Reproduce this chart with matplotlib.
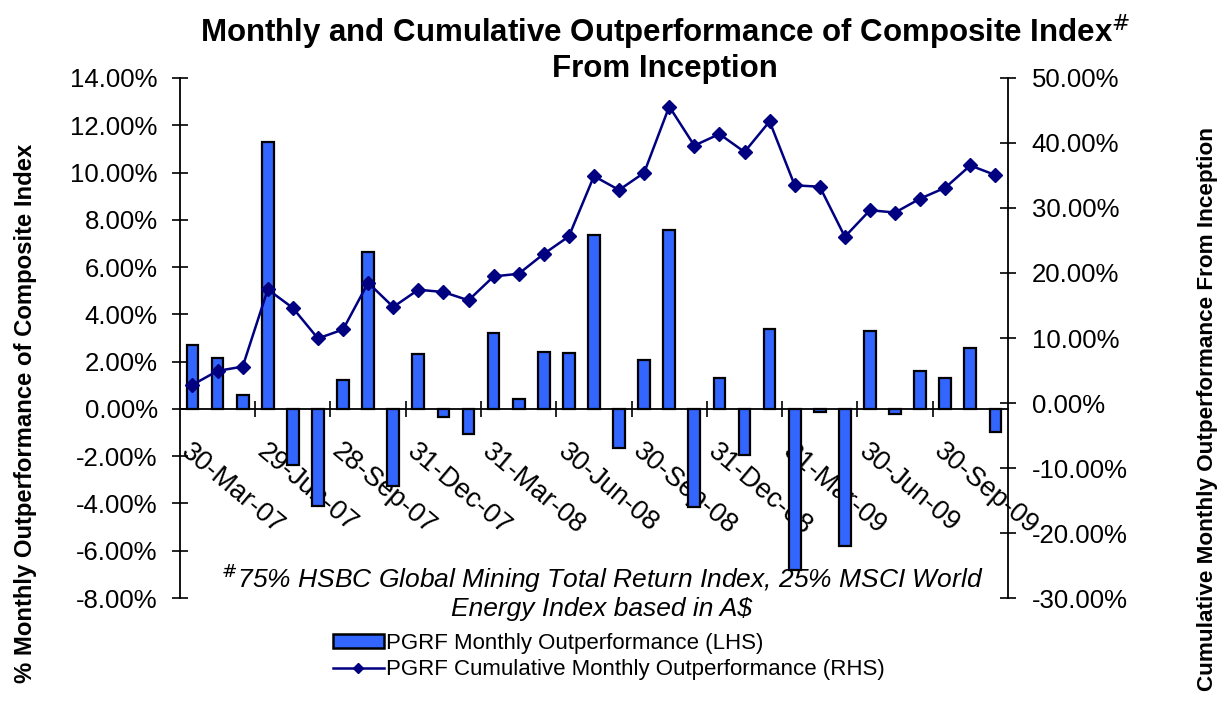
import matplotlib
matplotlib.use("Agg")
import matplotlib.pyplot as plt
from matplotlib.ticker import FuncFormatter, FixedLocator
from matplotlib.patches import Patch
from matplotlib.lines import Line2D

plt.rcParams['font.family'] = ['Liberation Sans', 'DejaVu Sans']

# ---- data ----
months = ["30-Mar-07", "30-Apr-07", "31-May-07", "29-Jun-07", "31-Jul-07", "31-Aug-07",
          "28-Sep-07", "31-Oct-07", "30-Nov-07", "31-Dec-07", "31-Jan-08", "29-Feb-08",
          "31-Mar-08", "30-Apr-08", "30-May-08", "30-Jun-08", "31-Jul-08", "29-Aug-08",
          "30-Sep-08", "31-Oct-08", "28-Nov-08", "31-Dec-08", "30-Jan-09", "27-Feb-09",
          "31-Mar-09", "30-Apr-09", "29-May-09", "30-Jun-09", "31-Jul-09", "31-Aug-09",
          "30-Sep-09", "30-Oct-09", "30-Nov-09"]
monthly = [2.71, 2.17, 0.59, 11.31, -2.37, -4.10, 1.24, 6.65, -3.26, 2.32, -0.33, -1.07,
           3.20, 0.42, 2.42, 2.38, 7.36, -1.64, 2.07, 7.57, -4.13, 1.30, -1.95, 3.37,
           -6.81, -0.14, -5.78, 3.31, -0.23, 1.62, 1.30, 2.57, -0.99]
cumulative = [2.80, 4.94, 5.60, 17.48, 14.62, 9.93, 11.31, 18.50, 14.77, 17.43, 17.07, 15.80,
              19.47, 19.88, 22.94, 25.63, 34.90, 32.77, 35.42, 45.61, 39.60, 41.38, 38.62, 43.32,
              33.49, 33.27, 25.58, 29.66, 29.30, 31.44, 33.12, 36.54, 35.06]
label_every = 3
left_ticks = [-8, -6, -4, -2, 0, 2, 4, 6, 8, 10, 12, 14]
right_ticks = [-30, -20, -10, 0, 10, 20, 30, 40, 50]

title1 = "Monthly and Cumulative Outperformance of Composite Index$^{\\#}$"
title2 = "From Inception"
left_label = "% Monthly Outperformance of Composite Index"
right_label = "Cumulative Monthly Outperformance From Inception"
foot1 = "$^{\\#}$75% HSBC Global Mining Total Return Index, 25% MSCI World"
foot2 = "Energy Index based in A$"
leg_bar = "PGRF Monthly Outperformance (LHS)"
leg_line = "PGRF Cumulative Monthly Outperformance (RHS)"

bar_color = "#3366FF"
line_color = "#000080"

fig = plt.figure(figsize=(12.2, 7.22), dpi=100)
ax = fig.add_axes([0.1475, 0.1717, 0.6787, 0.7203])
ax2 = ax.twinx()

x = list(range(len(months)))
ax.bar(x, monthly, width=0.47, color=bar_color, edgecolor="black", linewidth=1.6, zorder=3)
ax.set_xlim(-0.5, len(months) - 0.5)
ax.set_ylim(-8, 14)
ax.set_yticks(left_ticks)
ax.yaxis.set_major_formatter(FuncFormatter(lambda v, p: f"{v:.2f}%"))

ax2.plot(x, cumulative, color=line_color, lw=1.8, marker="D", ms=7, zorder=4)
ax2.set_ylim(-30, 50)
ax2.set_yticks(right_ticks)
ax2.yaxis.set_major_formatter(FuncFormatter(lambda v, p: f"{v:.2f}%"))
ax2.set_zorder(ax.get_zorder() + 1)
ax2.patch.set_visible(False)

for a in (ax, ax2):
    a.spines['top'].set_visible(False)
ax.spines['right'].set_visible(False)
ax2.spines['left'].set_visible(False)
ax2.spines['bottom'].set_visible(False)
ax.spines['bottom'].set_position(('data', 0))
for s in ('left', 'bottom'):
    ax.spines[s].set_linewidth(1.3)
ax2.spines['right'].set_linewidth(1.3)

bounds = [i - 0.5 for i in range(label_every, len(months), label_every)]
ax.xaxis.set_major_locator(FixedLocator(bounds))
ax.tick_params(axis='x', direction='inout', length=12, width=1.2, labelbottom=False)
ax.tick_params(axis='y', direction='inout', length=12, width=1.2, pad=10, labelsize=18.5)
ax2.tick_params(axis='y', direction='inout', length=12, width=1.2, pad=11, labelsize=18.5)

for i in range(0, len(months), label_every):
    ax.text(i + 0.02, -1.25, months[i], rotation=-40, rotation_mode='anchor',
            ha='left', va='top', fontsize=19.5, zorder=2)

fig.text(0.545, 0.956, title1, ha='center', va='center', fontsize=22.5, fontweight='bold')
fig.text(0.545, 0.905, title2, ha='center', va='center', fontsize=22.5, fontweight='bold')

fig.text(0.0205, 0.427, left_label, rotation=90, ha='center', va='center',
         fontsize=17.2, fontweight='bold')
fig.text(0.9895, 0.433, right_label, rotation=90, ha='center', va='center',
         fontsize=16.2, fontweight='bold')

fig.text(0.4934, 0.1994, foot1, ha='center', va='center', fontsize=19, style='italic', zorder=1)
fig.text(0.4934, 0.156, foot2, ha='center', va='center', fontsize=19, style='italic', zorder=1)

handles = [Patch(facecolor=bar_color, edgecolor='black', linewidth=1.8),
           Line2D([0], [0], color=line_color, lw=1.8, marker='D', ms=5)]
fig.legend(handles, [leg_bar, leg_line], loc='upper left', bbox_to_anchor=(0.2655, 0.136),
           frameon=False, fontsize=16, handlelength=2.3, handleheight=0.6, handletextpad=0.1,
           labelspacing=0.25, borderaxespad=0)

fig.savefig("out.png", dpi=100)
